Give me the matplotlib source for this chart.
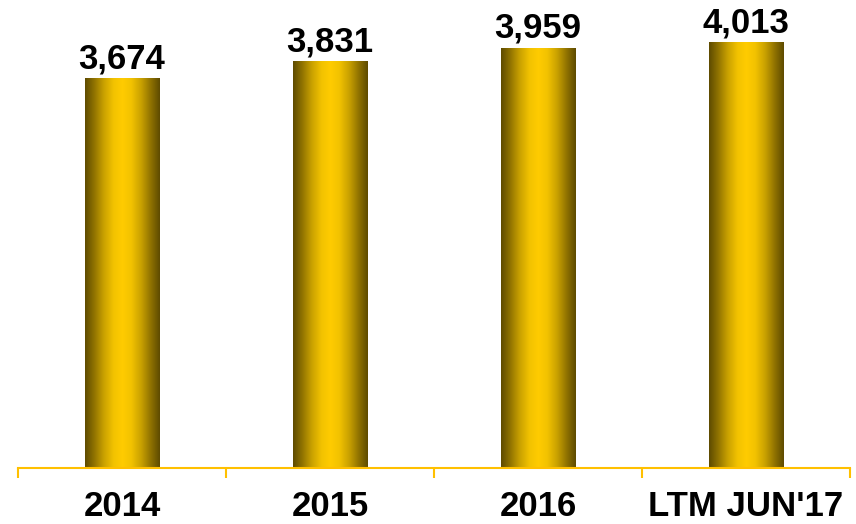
import matplotlib
matplotlib.use("Agg")
import matplotlib.pyplot as plt
import numpy as np
from matplotlib.colors import LinearSegmentedColormap

categories = ["2014", "2015", "2016", "LTM JUN'17"]
values = [3674, 3831, 3959, 4013]
value_labels = ["3,674", "3,831", "3,959", "4,013"]

plt.rcParams['font.family'] = ['Liberation Sans', 'DejaVu Sans']

fig = plt.figure(figsize=(8.56, 5.24), dpi=100)
ax = fig.add_axes([18/856, 56/524, 832/856, 468/524])

x = np.arange(len(categories))
bars = ax.bar(x, values, width=0.36, color='none', edgecolor='none', zorder=2)

cmap = LinearSegmentedColormap.from_list(
    "gold", [(0.0, "#5e4b00"), (0.12, "#8f7200"), (0.25, "#c9a100"),
             (0.38, "#f2c200"), (0.5, "#ffcc00"), (0.62, "#f2c200"),
             (0.75, "#c9a100"), (0.88, "#8f7200"), (1.0, "#5e4b00")])
grad = np.linspace(0, 1, 256).reshape(1, -1)
for b in bars:
    x0, y0 = b.get_x(), b.get_y()
    w, h = b.get_width(), b.get_height()
    im = ax.imshow(grad, cmap=cmap, aspect='auto',
                   extent=[x0, x0 + w, y0, y0 + h], zorder=2,
                   interpolation='bilinear')
    im.set_clip_path(b)

for xi, v, lab in zip(x, values, value_labels):
    ax.annotate(lab, (xi, v), xytext=(0, 2), textcoords='offset points',
                ha='center', va='bottom', fontsize=25, fontweight='bold',
                color='black')

ax.set_xlim(-0.5, len(categories) - 0.5)
ax.set_ylim(0, 4407)

for s in ['top', 'right', 'left']:
    ax.spines[s].set_visible(False)
ax.spines['bottom'].set_color('#ffc000')
ax.spines['bottom'].set_linewidth(1.5)
ax.set_yticks([])

ax.set_xticks(np.arange(len(categories) + 1) - 0.5)
ax.set_xticklabels([])
ax.tick_params(axis='x', which='major', length=7.5, width=1.5, color='#ffc000')
ax.set_xticks(x, minor=True)
ax.set_xticklabels(categories, minor=True, fontsize=25, fontweight='bold')
ax.tick_params(axis='x', which='minor', length=0, pad=16)

fig.savefig("out.png", dpi=100)
